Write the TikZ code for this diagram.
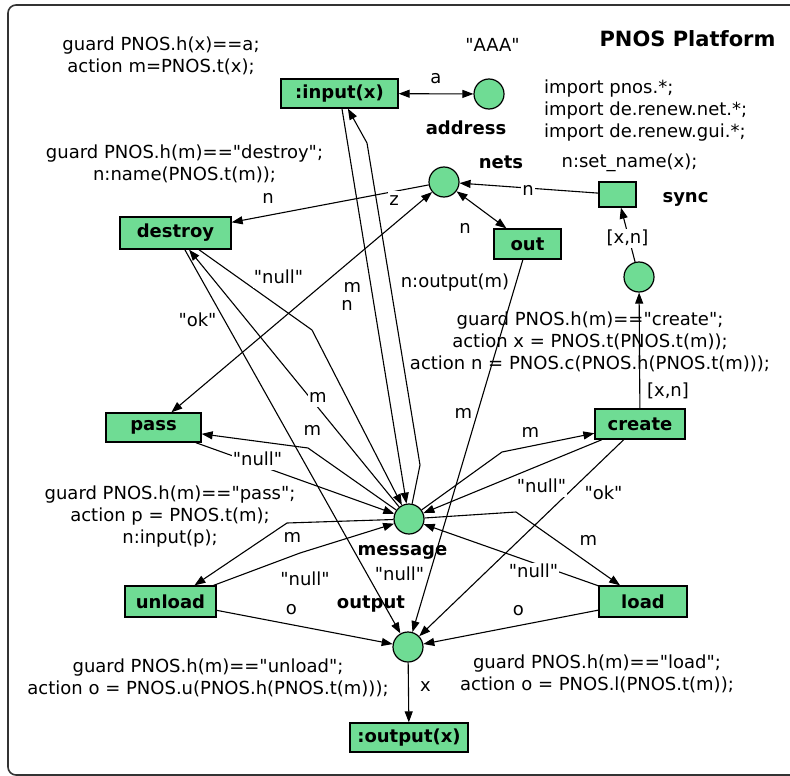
\documentclass[tikz,border=0pt]{standalone}
\usepackage{fontspec}
\setmainfont{DejaVu Sans}
\usetikzlibrary{arrows.meta}
\definecolor{pg}{RGB}{111,220,148}
\newcommand\myfs{\fontsize{18}{22}\selectfont}
\newcommand\dq{\XeTeXglyph\XeTeXcharglyph"22\relax}
\begin{document}
\begin{tikzpicture}[x=1pt,y=-1pt,
  tr/.style={draw, fill=pg, line width=1.3pt, inner sep=0pt, font=\myfs\bfseries},
  pl/.style={circle, draw, fill=pg, line width=1.2pt, minimum size=30pt, inner sep=0pt},
  ln/.style={line width=1.1pt},
  arc/.style={ln, -{Triangle[length=11pt,width=8pt]}},
  arcb/.style={ln, {Triangle[length=11pt,width=8pt]}-{Triangle[length=11pt,width=8pt]}},
  lab/.style={font=\myfs, fill=white, inner sep=1pt, text height=13pt, text depth=4pt, anchor=base},
  nm/.style={font=\myfs\bfseries, inner sep=0pt, anchor=base},
  txt/.style={font=\myfs, align=center, inner sep=0pt}]

\useasboundingbox (0,0) rectangle (790,776);
\clip (0,0) rectangle (790,776);
\draw[line width=1.6pt, draw=black!80, rounded corners=8pt] (8,5) rectangle (806,775);

% transitions
\node[tr, minimum width=117pt, minimum height=29pt] (inp) at (339.5,93.5) {:input(x)};
\node[tr, minimum width=111pt, minimum height=32pt] (des) at (175.5,233) {destroy};
\node[tr, minimum width=67pt, minimum height=30pt] (out) at (527.5,244) {out};
\node[tr, minimum width=37pt, minimum height=25pt] (sync) at (617.5,194.5) {};
\node[tr, minimum width=90pt, minimum height=30pt] (cre) at (640,424) {create};
\node[tr, minimum width=95pt, minimum height=29pt] (pass) at (153.5,427.5) {pass};
\node[tr, minimum width=91pt, minimum height=31pt] (unl) at (170.5,601.5) {unload};
\node[tr, minimum width=88pt, minimum height=31pt] (load) at (643,601.5) {load};
\node[tr, minimum width=118pt, minimum height=29pt] (outx) at (409,737.5) {:output(x)};

% places
\node[pl] (addr) at (489,94) {};
\node[pl] (nets) at (444,182) {};
\node[pl] (pl) at (639,277) {};
\node[pl] (msg) at (409,519) {};
\node[pl] (outp) at (408,647) {};

% bend points
\coordinate (b1) at (420,465);
\coordinate (b2) at (367,143);
\coordinate (b3) at (312,330);
\coordinate (b4) at (308,448);
\coordinate (b5) at (502,452);
\coordinate (b6) at (516,512);
\coordinate (b7) at (287,523);
\coordinate (b8) at (300,553);

% arcs
\draw[arcb] (inp) -- (addr);
\draw[arc] (inp) -- (msg);
\draw[arc] (msg) -- (b1) -- (b2) -- (inp);
\draw[arc] (nets) -- (des);
\draw[arcb] (nets) -- (pass);
\draw[arcb] (nets) -- (out);
\draw[arc] (sync) -- (nets);
\draw[arc] (pl) -- (sync);
\draw[arc] (cre) -- (pl);
\draw[arc] (msg) -- (des);
\draw[arc] (des) -- (b3) -- (msg);
\draw[arc] (des) -- (outp);
\draw[arc] (msg) -- (b4) -- (pass);
\draw[arc] (pass) -- (msg);
\draw[arc] (msg) -- (b5) -- (cre);
\draw[arc] (cre) -- (msg);
\draw[arc] (cre) -- (outp);
\draw[arc] (msg) -- (b6) -- (load);
\draw[arc] (load) -- (msg);
\draw[arc] (load) -- (outp);
\draw[arc] (msg) -- (b7) -- (unl);
\draw[arc] (unl) -- (b8) -- (msg);
\draw[arc] (unl) -- (outp);
\draw[arc] (out) -- (outp);
\draw[arc] (outp) -- (outx);

% arc inscriptions
\node[lab] (la) at (436,84) {a};
\node[lab] (ln1) at (268,203) {n};
\node[lab] (lz) at (394,205) {z};
\node[lab] (ln2) at (465,233) {n};
\node[lab] (ln3) at (528,195) {n};
\node[lab] (lxn1) at (627.5,243) {[x,n]};
\node[lab] (lxn2) at (668,396) {[x,n]};
\node[lab] (lnull1) at (278.5,283) {\dq null\dq};
\node[lab] (lok1) at (197.5,326) {\dq ok\dq};
\node[lab] (lm1) at (352.5,292) {m};
\node[lab] (ln4) at (347,310) {n};
\node[lab] (lm2) at (318,402) {m};
\node[lab] (lm3) at (312.5,435) {m};
\node[lab] (lnull2) at (257.5,465) {\dq null\dq};
\node[lab] (lm4) at (463.5,418) {m};
\node[lab] (lm5) at (530.5,437) {m};
\node[lab] (lnull3) at (541.5,492) {\dq null\dq};
\node[lab] (lok2) at (603.5,499) {\dq ok\dq};
\node[lab] (lm6) at (292.5,542) {m};
\node[lab] (lnull4) at (305,585) {\dq null\dq};
\node[lab] (lo1) at (291.5,614) {o};
\node[lab] (lnull5) at (533.5,577) {\dq null\dq};
\node[lab] (lm7) at (588.5,545) {m};
\node[lab] (lo2) at (518.5,615) {o};
\node[lab] (lx) at (425.5,691) {x};

% place names and markings
\node[nm] (naddr) at (466,134) {address};
\node[nm] (nnets) at (501,168) {nets};
\node[nm] (nsync) at (685.5,202) {sync};
\node[nm] (nmsg) at (402.5,555) {message};
\node[nm] (noutp) at (371,608) {output};
\node[font=\myfs, inner sep=0pt, anchor=base] (maaa) at (492.5,52) {\dq AAA\dq};
\node[font=\myfs, inner sep=0pt, anchor=base] (mnull) at (399.5,580) {\dq null\dq};

% title
\node[font=\fontsize{21}{25}\selectfont\bfseries, inner sep=0pt, anchor=base] (title) at (687.5,47) {PNOS Platform};

% inscriptions
\node[txt] (g1) at (161,56) {guard PNOS.h(x)==a;\\action m=PNOS.t(x);};
\node[txt] (g2) at (184.5,163.5) {guard PNOS.h(m)==\dq destroy\dq;\\n:name(PNOS.t(m));};
\node[txt] (g3) at (590,342) {guard PNOS.h(m)==\dq create\dq;\\action x = PNOS.t(PNOS.t(m));\\action n = PNOS.c(PNOS.h(PNOS.t(m)));};
\node[txt] (g4) at (170,516.5) {guard PNOS.h(m)==\dq pass\dq;\\action p = PNOS.t(m);\\n:input(p);};
\node[txt] (g5) at (208,677.5) {guard PNOS.h(m)==\dq unload\dq;\\action o = PNOS.u(PNOS.h(PNOS.t(m)));};
\node[txt] (g6) at (597,673.5) {guard PNOS.h(m)==\dq load\dq;\\action o = PNOS.l(PNOS.t(m));};
\node[font=\myfs, inner sep=0pt, anchor=base] (gout) at (455,287) {n:output(m)};
\node[font=\myfs, inner sep=0pt, anchor=base] (gsync) at (629.5,167) {n:set\_name(x);};
\node[txt, align=left, anchor=west] (imp) at (544,111) {import pnos.*;\\import de.renew.net.*;\\import de.renew.gui.*;};
\end{tikzpicture}
\end{document}
